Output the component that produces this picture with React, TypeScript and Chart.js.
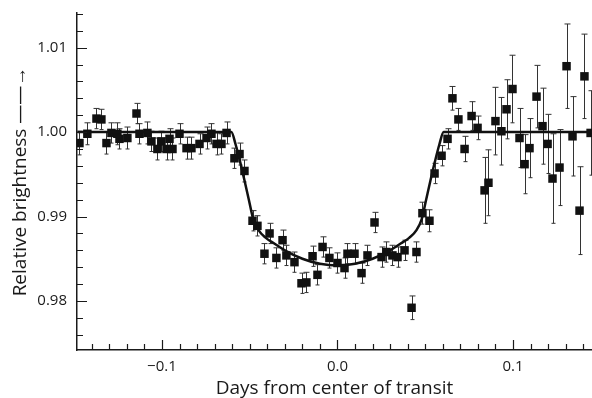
import React, { useEffect, useRef } from "react";
import { Chart, registerables } from "chart.js";

Chart.register(...registerables);

// Observations: time from transit centre (days), relative brightness, 1-sigma error
const obsT = [
  -0.147, -0.1425, -0.1373, -0.1345, -0.1316, -0.1288, -0.1254, -0.1242, -0.1197, -0.1145,
  -0.1128, -0.1083, -0.106, -0.1026, -0.1003, -0.0974, -0.0957, -0.094, -0.09, -0.086,
  -0.0832, -0.0786, -0.0746, -0.0718, -0.0689, -0.0661, -0.0632, -0.0587, -0.0558, -0.053,
  -0.0484, -0.0456, -0.0416, -0.0387, -0.0348, -0.0313, -0.0291, -0.0245, -0.0205, -0.0177,
  -0.0142, -0.0114, -0.0085, -0.0046, 0.0, 0.004, 0.0057, 0.0097, 0.0137, 0.0171,
  0.0211, 0.0251, 0.0279, 0.0313, 0.0342, 0.0382, 0.0422, 0.045, 0.0484, 0.0524,
  0.0553, 0.0593, 0.0627, 0.0655, 0.0689, 0.0724, 0.0764, 0.0798, 0.0838, 0.086,
  0.09, 0.0934, 0.0963, 0.0997, 0.1037, 0.1066, 0.1094, 0.1134, 0.1168, 0.1197,
  0.1225, 0.1265, 0.1305, 0.1339, 0.1379, 0.1407, 0.1442,
];
const obsY = [
  0.9987, 0.9998, 1.0016, 1.0015, 0.9987, 0.9999, 0.9998, 0.9992, 0.9993, 1.0022,
  0.9998, 0.9999, 0.9989, 0.998, 0.9989, 0.998, 0.9992, 0.998, 0.9998, 0.9981,
  0.9981, 0.9986, 0.9993, 0.9998, 0.9986, 0.9986, 0.9999, 0.9969, 0.9974, 0.9954,
  0.9895, 0.9889, 0.9856, 0.988, 0.9851, 0.9872, 0.9854, 0.9846, 0.9821, 0.9822,
  0.9853, 0.9831, 0.9864, 0.9851, 0.9845, 0.9839, 0.9856, 0.9856, 0.9833, 0.9854,
  0.9893, 0.9852, 0.9858, 0.9854, 0.9852, 0.986, 0.9792, 0.9858, 0.9904, 0.9895,
  0.9951, 0.9972, 0.9992, 1.004, 1.0015, 0.998, 1.0019, 1.0005, 0.9931, 0.994,
  1.0013, 1.0001, 1.0027, 1.0051, 0.9993, 0.9962, 0.9981, 1.0042, 1.0007, 0.9986,
  0.9945, 0.9958, 1.0078, 0.9995, 0.9907, 1.0066, 0.9999,
];
const obsErr = [
  0.0014, 0.0013, 0.0012, 0.0012, 0.0013, 0.0012, 0.0013, 0.0012, 0.0013, 0.0012,
  0.0012, 0.0013, 0.0012, 0.0013, 0.0012, 0.0013, 0.0012, 0.0013, 0.0012, 0.0013,
  0.0013, 0.0012, 0.0013, 0.0012, 0.0013, 0.0012, 0.0013, 0.0012, 0.0013, 0.0013,
  0.0012, 0.0012, 0.0012, 0.0012, 0.0012, 0.0012, 0.0012, 0.0012, 0.0012, 0.0012,
  0.0012, 0.0012, 0.0012, 0.0012, 0.0012, 0.0012, 0.0012, 0.0012, 0.0012, 0.0012,
  0.0012, 0.0012, 0.0012, 0.0012, 0.0012, 0.0012, 0.0014, 0.0012, 0.0013, 0.0013,
  0.0012, 0.0012, 0.0012, 0.0014, 0.0013, 0.0015, 0.0017, 0.0014, 0.0039, 0.0039,
  0.004, 0.004, 0.0035, 0.004, 0.0035, 0.0035, 0.0035, 0.0037, 0.0045, 0.0035,
  0.0053, 0.0045, 0.005, 0.0047, 0.0052, 0.005, 0.005,
];

// Fitted transit model curve
const modelT = [
  -0.148, -0.0605, -0.058, -0.0555, -0.053, -0.0505, -0.048, -0.045, -0.041, -0.036,
  -0.03, -0.02, -0.01, 0, 0.01, 0.02, 0.03, 0.036, 0.041, 0.045,
  0.048, 0.0505, 0.053, 0.0555, 0.058, 0.0605, 0.145,
];
const modelY = [
  1.0, 1.0, 0.9985, 0.9965, 0.9943, 0.992, 0.9897, 0.9884, 0.9875, 0.9868,
  0.986, 0.985, 0.9844, 0.9842, 0.9844, 0.985, 0.986, 0.9868, 0.9875, 0.9884,
  0.9897, 0.992, 0.9943, 0.9965, 0.9985, 1.0, 1.0,
];

// Axis ticks
const xAllTicks = [
  -0.14, -0.13, -0.12, -0.11, -0.1, -0.09, -0.08, -0.07, -0.06, -0.05, -0.04, -0.03, -0.02, -0.01,
  0, 0.01, 0.02, 0.03, 0.04, 0.05, 0.06, 0.07, 0.08, 0.09, 0.1, 0.11, 0.12, 0.13, 0.14,
];
const xMajorTicks = [-0.1, 0, 0.1];
const xTickLabels = ["\u22120.1", "0.0", "0.1"];
const yAllTicks = [
  0.976, 0.978, 0.98, 0.982, 0.984, 0.986, 0.988, 0.99, 0.992, 0.994,
  0.996, 0.998, 1.0, 1.002, 1.004, 1.006, 1.008, 1.01, 1.012, 1.014,
];
const yMajorTicks = [0.98, 0.99, 1.0, 1.01];
const yTickLabels = ["0.98", "0.99", "1.00", "1.01"];

const FONT = "'Open Sans', 'Noto Sans', sans-serif";
const INK = "#1a1a1a";

const majorIndex = (list: number[], v: number) => list.findIndex((m) => Math.abs(m - v) < 1e-7);

const errorBarPlugin = {
  id: "errorBars",
  beforeDatasetsDraw(chart: any) {
    const { ctx, chartArea, scales } = chart;
    const xs = scales.x;
    const ys = scales.y;
    ctx.save();
    ctx.beginPath();
    ctx.rect(chartArea.left, chartArea.top, chartArea.right - chartArea.left, chartArea.bottom - chartArea.top);
    ctx.clip();
    ctx.strokeStyle = "#333";
    ctx.lineWidth = 1;
    for (let i = 0; i < obsT.length; i++) {
      const px = Math.round(xs.getPixelForValue(obsT[i])) + 0.5;
      const yTop = ys.getPixelForValue(obsY[i] + obsErr[i]);
      const yBot = ys.getPixelForValue(obsY[i] - obsErr[i]);
      ctx.beginPath();
      ctx.moveTo(px, yTop);
      ctx.lineTo(px, yBot);
      ctx.moveTo(px - 3, yTop);
      ctx.lineTo(px + 3, yTop);
      ctx.moveTo(px - 2, yBot);
      ctx.lineTo(px + 2, yBot);
      ctx.stroke();
    }
    ctx.restore();
  },
};

const inwardTicksPlugin = {
  id: "inwardTicks",
  afterDraw(chart: any) {
    const { ctx, chartArea, scales } = chart;
    const xs = scales.x;
    const ys = scales.y;
    ctx.save();
    ctx.strokeStyle = INK;
    ctx.lineWidth = 1.2;
    ctx.beginPath();
    for (const v of xAllTicks) {
      const px = Math.round(xs.getPixelForValue(v)) + 0.5;
      const len = majorIndex(xMajorTicks, v) >= 0 ? 10 : 6;
      ctx.moveTo(px, chartArea.bottom);
      ctx.lineTo(px, chartArea.bottom - len);
    }
    for (const v of yAllTicks) {
      const py = Math.round(ys.getPixelForValue(v)) + 0.5;
      const len = majorIndex(yMajorTicks, v) >= 0 ? 10 : 6;
      ctx.moveTo(chartArea.left, py);
      ctx.lineTo(chartArea.left + len, py);
    }
    ctx.stroke();
    ctx.restore();
  },
};

export default function App() {
  const canvasRef = useRef<HTMLCanvasElement | null>(null);

  useEffect(() => {
    document.body.style.margin = "0";
    const canvas = canvasRef.current;
    if (!canvas) return;

    const chart = new Chart(canvas, {
      type: "scatter",
      data: {
        datasets: [
          {
            type: "line",
            label: "Model",
            data: modelT.map((t, i) => ({ x: t, y: modelY[i] })),
            borderColor: "#111",
            borderWidth: 2.5,
            pointRadius: 0,
            cubicInterpolationMode: "monotone",
            fill: false,
          } as any,
          {
            type: "scatter",
            label: "Observed",
            data: obsT.map((t, i) => ({ x: t, y: obsY[i] })),
            pointStyle: "rect",
            pointRadius: 6,
            backgroundColor: "#111",
            borderColor: "#111",
            borderWidth: 0,
          },
        ],
      },
      options: {
        responsive: false,
        animation: false,
        events: [],
        layout: { autoPadding: false, padding: { top: 13, right: 0, bottom: 0, left: 0 } },
        plugins: {
          legend: { display: false },
          tooltip: { enabled: false },
        },
        scales: {
          x: {
            type: "linear",
            min: -0.1484,
            max: 0.145,
            afterBuildTicks: (s: any) => {
              s.ticks = xAllTicks.map((v) => ({ value: v }));
            },
            afterFit: (s: any) => {
              s.height = 48;
              s.paddingLeft = 0;
              s.paddingRight = 0;
            },
            grid: { display: false, drawTicks: false, tickLength: 0 },
            border: { display: true, color: INK, width: 1.5 },
            ticks: {
              autoSkip: false,
              maxRotation: 0,
              padding: 8,
              color: INK,
              font: { family: FONT, size: 15 },
              callback: (v: any) => {
                const k = majorIndex(xMajorTicks, Number(v));
                return k >= 0 ? xTickLabels[k] : "";
              },
            },
            title: {
              display: true,
              text: "Days from center of transit",
              color: INK,
              font: { family: FONT, size: 19, lineHeight: 1.0 },
              padding: { top: 0, bottom: 0 },
            },
          },
          y: {
            type: "linear",
            min: 0.9742,
            max: 1.0141,
            afterBuildTicks: (s: any) => {
              s.ticks = yAllTicks.map((v) => ({ value: v }));
            },
            afterFit: (s: any) => {
              s.width = 77;
              s.paddingTop = 0;
              s.paddingBottom = 0;
            },
            grid: { display: false, drawTicks: false, tickLength: 0 },
            border: { display: true, color: INK, width: 1.5 },
            ticks: {
              autoSkip: false,
              padding: 10,
              color: INK,
              font: { family: FONT, size: 15 },
              callback: (v: any) => {
                const k = majorIndex(yMajorTicks, Number(v));
                return k >= 0 ? yTickLabels[k] : "";
              },
            },
            title: {
              display: true,
              text: "Relative brightness \u2014\u2014\u2192",
              color: INK,
              font: { family: FONT, size: 19, lineHeight: 1.0 },
              padding: { top: 11, bottom: 0 },
            },
          },
        },
      },
      plugins: [errorBarPlugin, inwardTicksPlugin],
    });

    return () => chart.destroy();
  }, []);

  return (
    <div style={{ width: 592, height: 398, background: "#fff" }}>
      <canvas ref={canvasRef} width={592} height={398} />
    </div>
  );
}
